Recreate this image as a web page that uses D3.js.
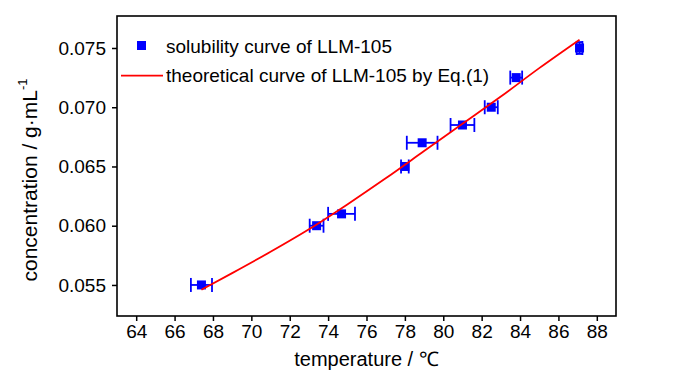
<!DOCTYPE html>
<html>
<head>
<meta charset="utf-8">
<script src="https://cdn.jsdelivr.net/npm/d3@7"></script>
<style>
  body { margin: 0; background: #fff; }
  svg text { font-family: "Liberation Sans", Arial, sans-serif; fill: #000; }
</style>
</head>
<body>
<div id="chart"></div>
<script>
// measured points (temperature in C, concentration in g/mL)
var temps = [67.4, 73.4, 74.7, 78.0, 78.9, 81.0, 82.5, 83.8, 87.1];
var conc = [0.0550, 0.0600, 0.0610, 0.0650, 0.0670, 0.0685, 0.0700, 0.0725, 0.0750];
var tempErr = [0.55, 0.36, 0.7, 0.2, 0.8, 0.62, 0.34, 0.31, 0.15];
var concErr = [0, 0, 0, 0, 0, 0, 0, 0, 0.0005];

// theoretical curve by Eq.(1)
var fitTemps = [67.4, 69, 71, 73, 75, 77, 79, 81, 83, 85, 87.1];
var fitConc = [0.0546, 0.0560, 0.0578, 0.0597, 0.0618, 0.0640, 0.0663, 0.0686, 0.0709, 0.0733, 0.0757];

var xTicks = [64, 66, 68, 70, 72, 74, 76, 78, 80, 82, 84, 86, 88];
var xMinor = [63, 65, 67, 69, 71, 73, 75, 77, 79, 81, 83, 85, 87, 89];
var yTicks = [0.055, 0.060, 0.065, 0.070, 0.075];
var yMinor = [0.0525, 0.0575, 0.0625, 0.0675, 0.0725, 0.0775];

var legendLabels = ["solubility curve of LLM-105", "theoretical curve of LLM-105 by Eq.(1)"];

function init() {
    var w = 700, h = 374;
    var pL = 117, pR = 616, pT = 16, pB = 316;

    var svg = d3.select("#chart").append("svg")
        .attr("width", w)
        .attr("height", h);

    var x = d3.scaleLinear().domain([63, 89]).range([pL, pR]);
    var y = d3.scaleLinear().domain([0.05238, 0.0777]).range([pB, pT]);

    // axes
    var gx = svg.append("g").attr("transform", "translate(0," + pB + ")");
    gx.call(d3.axisBottom(x).tickValues(xMinor).tickSize(3).tickFormat(""));
    gx.call(d3.axisBottom(x).tickValues(xTicks).tickSize(5).tickPadding(4).tickFormat(d3.format("d")));

    var gy = svg.append("g").attr("transform", "translate(" + pL + ",0)");
    gy.call(d3.axisLeft(y).tickValues(yMinor).tickSize(3).tickFormat(""));
    gy.call(d3.axisLeft(y).tickValues(yTicks).tickSize(5).tickPadding(6).tickFormat(d3.format(".3f")));

    svg.selectAll(".domain").remove();
    svg.selectAll(".tick line").attr("stroke", "#000").attr("stroke-width", 1.5);
    svg.selectAll(".tick text").style("font-size", "19px");

    // frame
    svg.append("rect")
        .attr("x", pL).attr("y", pT)
        .attr("width", pR - pL).attr("height", pB - pT)
        .attr("fill", "none").attr("stroke", "#000").attr("stroke-width", 1.6);

    // error bars
    var pts = temps.map(function(t, i) {
        return { t: t, c: conc[i], et: tempErr[i], ec: concErr[i] };
    });
    var eb = svg.append("g").attr("stroke", "#0000ff").attr("stroke-width", 1.8).attr("fill", "none");
    pts.forEach(function(d) {
        var cy = y(d.c);
        eb.append("line").attr("x1", x(d.t - d.et)).attr("x2", x(d.t + d.et)).attr("y1", cy).attr("y2", cy);
        eb.append("line").attr("x1", x(d.t - d.et)).attr("x2", x(d.t - d.et)).attr("y1", cy - 7).attr("y2", cy + 7);
        eb.append("line").attr("x1", x(d.t + d.et)).attr("x2", x(d.t + d.et)).attr("y1", cy - 7).attr("y2", cy + 7);
        if (d.ec > 0) {
            var cx = x(d.t);
            eb.append("line").attr("x1", cx).attr("x2", cx).attr("y1", y(d.c - d.ec)).attr("y2", y(d.c + d.ec));
            eb.append("line").attr("x1", cx - 3).attr("x2", cx + 3).attr("y1", y(d.c - d.ec)).attr("y2", y(d.c - d.ec));
            eb.append("line").attr("x1", cx - 3).attr("x2", cx + 3).attr("y1", y(d.c + d.ec)).attr("y2", y(d.c + d.ec));
        }
    });

    // markers
    svg.selectAll("rect.pt")
        .data(pts)
        .enter()
        .append("rect")
        .attr("class", "pt")
        .attr("x", function(d) { return x(d.t) - 4.5; })
        .attr("y", function(d) { return y(d.c) - 4.5; })
        .attr("width", 9)
        .attr("height", 9)
        .attr("fill", "#0000ff");

    // fit line
    var line = d3.line()
        .x(function(d, i) { return x(fitTemps[i]); })
        .y(function(d) { return y(d); })
        .curve(d3.curveMonotoneX);
    svg.append("path")
        .datum(fitConc)
        .attr("d", line)
        .attr("fill", "none")
        .attr("stroke", "#ff0000")
        .attr("stroke-width", 1.8);

    // legend
    svg.append("rect").attr("x", 137).attr("y", 41).attr("width", 9).attr("height", 9).attr("fill", "#0000ff");
    svg.append("text").attr("x", 166).attr("y", 52.5).style("font-size", "19px").text(legendLabels[0]);
    svg.append("line").attr("x1", 121).attr("x2", 163).attr("y1", 75.7).attr("y2", 75.7)
        .attr("stroke", "#ff0000").attr("stroke-width", 1.8);
    svg.append("text").attr("x", 166).attr("y", 82).style("font-size", "19px").text(legendLabels[1]);

    // axis titles
    svg.append("text")
        .attr("x", (pL + pR) / 2).attr("y", 366)
        .attr("text-anchor", "middle")
        .style("font-size", "20px")
        .text("temperature / \u2103");

    var yt = svg.append("text")
        .attr("transform", "translate(37,180) rotate(-90)")
        .attr("text-anchor", "middle")
        .style("font-size", "21px");
    yt.append("tspan").text("concentration / g\u00b7mL");
    yt.append("tspan").attr("dy", -10).style("font-size", "13px").text("-1");
}

window.onload = init;
</script>
</body>
</html>
